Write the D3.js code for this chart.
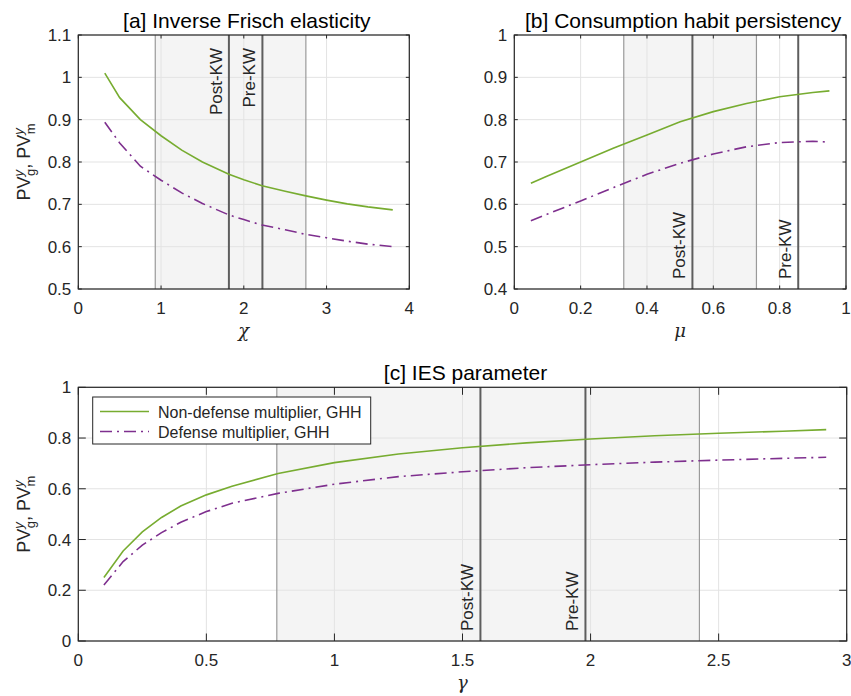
<!DOCTYPE html>
<html>
<head>
<meta charset="utf-8">
<script src="https://cdn.jsdelivr.net/npm/d3@7"></script>
<style>
  body { margin: 0; background: #fff; }
  text { font-family: "Liberation Sans", Arial, sans-serif; fill: #262626; }
</style>
</head>
<body>
<div id="chart"></div>
<script>
// panel a: inverse Frisch elasticity
var chiX = [0.32, 0.5, 0.75, 1.0, 1.25, 1.5, 1.82, 2.0, 2.22, 2.5, 2.75, 3.0, 3.25, 3.5, 3.8];
var chiNonDef = [1.01, 0.952, 0.90, 0.862, 0.828, 0.80, 0.771, 0.758, 0.744, 0.731, 0.72, 0.71, 0.701, 0.694, 0.687];
var chiDef = [0.894, 0.845, 0.79, 0.757, 0.727, 0.702, 0.675, 0.664, 0.651, 0.64, 0.629, 0.621, 0.613, 0.606, 0.6];
var chiBand = [0.93, 2.75], chiPost = 1.82, chiPre = 2.225;

// panel b: consumption habit persistency
var muX = [0.05, 0.1, 0.2, 0.3, 0.4, 0.5, 0.6, 0.7, 0.8, 0.9, 0.95];
var muNonDef = [0.65, 0.667, 0.70, 0.733, 0.764, 0.795, 0.819, 0.838, 0.854, 0.864, 0.868];
var muDef = [0.561, 0.577, 0.608, 0.64, 0.671, 0.697, 0.719, 0.736, 0.746, 0.749, 0.747];
var muBand = [0.33, 0.73], muPost = 0.537, muPre = 0.856;

// panel c: IES parameter
var gamX = [0.1, 0.175, 0.25, 0.325, 0.4, 0.5, 0.6, 0.78, 1.0, 1.25, 1.5, 1.75, 2.0, 2.25, 2.5, 2.75, 2.92];
var gamNonDef = [0.25, 0.355, 0.43, 0.487, 0.532, 0.576, 0.61, 0.66, 0.703, 0.737, 0.762, 0.781, 0.796, 0.809, 0.819, 0.827, 0.833];
var gamDef = [0.221, 0.313, 0.378, 0.427, 0.468, 0.51, 0.543, 0.582, 0.618, 0.648, 0.667, 0.683, 0.695, 0.705, 0.713, 0.72, 0.724];
var gamBand = [0.775, 2.425], gamPost = 1.57, gamPre = 1.98;

var seriesNames = ["Non-defense multiplier, GHH", "Defense multiplier, GHH"];
var green = "#77ac30", purple = "#7e2f8e";

var svg = d3.select("#chart").append("svg")
    .attr("width", 851).attr("height", 696);

var panels = [
  {title: "[a] Inverse Frisch elasticity", xs: chiX, g: chiNonDef, m: chiDef,
   band: chiBand, post: chiPost, pre: chiPre, xdom: [0, 4], ydom: [0.5, 1.1],
   xticks: d3.range(0, 4.01, 1), yticks: d3.range(0.5, 1.101, 0.1),
   box: [78.3, 35, 409.3, 289], xlab: "\u03c7", ylab: true, labTop: true, tick: 3.5},
  {title: "[b] Consumption habit persistency", xs: muX, g: muNonDef, m: muDef,
   band: muBand, post: muPost, pre: muPre, xdom: [0, 1], ydom: [0.4, 1],
   xticks: d3.range(0, 1.01, 0.2), yticks: d3.range(0.4, 1.001, 0.1),
   box: [514.3, 35, 846, 289], xlab: "\u03bc", ylab: false, labTop: false, tick: 3.5},
  {title: "[c] IES parameter", xs: gamX, g: gamNonDef, m: gamDef,
   band: gamBand, post: gamPost, pre: gamPre, xdom: [0, 3], ydom: [0, 1],
   xticks: d3.range(0, 3.01, 0.5), yticks: d3.range(0, 1.001, 0.2),
   box: [78.3, 387.3, 846.7, 641], xlab: "\u03b3", ylab: true, labTop: false, tick: 7.5, legend: true}
];

var fmt = d => String(+d.toFixed(2));

panels.forEach(function(p) {
    var x0 = p.box[0], y0 = p.box[1], x1 = p.box[2], y1 = p.box[3];
    var x = d3.scaleLinear().domain(p.xdom).range([x0, x1]);
    var y = d3.scaleLinear().domain(p.ydom).range([y1, y0]);
    var g = svg.append("g");

    // shaded range
    g.append("rect")
        .attr("x", x(p.band[0])).attr("y", y0)
        .attr("width", x(p.band[1]) - x(p.band[0])).attr("height", y1 - y0)
        .style("fill", "#f4f4f4");

    // grid
    g.selectAll(".gx").data(p.xticks).enter().append("line")
        .attr("x1", d => x(d)).attr("x2", d => x(d))
        .attr("y1", y0).attr("y2", y1)
        .style("stroke", "#e3e3e3").style("stroke-width", 1);
    g.selectAll(".gy").data(p.yticks).enter().append("line")
        .attr("y1", d => y(d)).attr("y2", d => y(d))
        .attr("x1", x0).attr("x2", x1)
        .style("stroke", "#e3e3e3").style("stroke-width", 1);

    // ticks inside, all four sides
    var tl = p.tick;
    g.selectAll(".tb").data(p.xticks).enter().append("path")
        .attr("d", d => "M" + x(d) + "," + y1 + "v" + (-tl) + "M" + x(d) + "," + y0 + "v" + tl)
        .style("stroke", "#262626");
    g.selectAll(".tl").data(p.yticks).enter().append("path")
        .attr("d", d => "M" + x0 + "," + y(d) + "h" + tl + "M" + x1 + "," + y(d) + "h" + (-tl))
        .style("stroke", "#262626");

    // band edges and KW markers
    p.band.forEach(function(v) {
        g.append("line").attr("x1", x(v)).attr("x2", x(v)).attr("y1", y0).attr("y2", y1)
            .style("stroke", "#9a9a9a").style("stroke-width", 1.2);
    });
    [[p.post, "Post-KW"], [p.pre, "Pre-KW"]].forEach(function(k) {
        g.append("line").attr("x1", x(k[0])).attr("x2", x(k[0])).attr("y1", y0).attr("y2", y1)
            .style("stroke", "#5e5e5e").style("stroke-width", 2);
        var ty = p.labTop ? y0 + 13 : y1 - 10;
        g.append("text")
            .attr("transform", "translate(" + (x(k[0]) - 7) + "," + ty + ") rotate(-90)")
            .attr("text-anchor", p.labTop ? "end" : "start")
            .style("font-size", "17px")
            .text(k[1]);
    });

    // lines
    var line = d3.line().x(d => x(d[0])).y(d => y(d[1]));
    g.append("path").datum(p.xs.map((v, i) => [v, p.g[i]]))
        .attr("d", line).style("fill", "none").style("stroke", green).style("stroke-width", 1.6);
    g.append("path").datum(p.xs.map((v, i) => [v, p.m[i]]))
        .attr("d", line).style("fill", "none").style("stroke", purple).style("stroke-width", 1.6)
        .style("stroke-dasharray", "12,5,2,5");

    // box
    g.append("rect").attr("x", x0).attr("y", y0).attr("width", x1 - x0).attr("height", y1 - y0)
        .style("fill", "none").style("stroke", "#262626").style("stroke-width", 1.2);

    // tick labels
    g.selectAll(".xl").data(p.xticks).enter().append("text")
        .attr("x", d => x(d)).attr("y", y1 + 25)
        .attr("text-anchor", "middle").style("font-size", "17px")
        .text(fmt);
    g.selectAll(".yl").data(p.yticks).enter().append("text")
        .attr("x", x0 - 7).attr("y", d => y(d) + 6)
        .attr("text-anchor", "end").style("font-size", "17px")
        .text(fmt);

    // title
    g.append("text").attr("x", (x0 + x1) / 2 + 3).attr("y", y0 - 7)
        .attr("text-anchor", "middle").style("font-size", "21px")
        .style("fill", "#000")
        .text(p.title);

    // x label
    g.append("text").attr("x", (x0 + x1) / 2).attr("y", y1 + 48)
        .attr("text-anchor", "middle")
        .style("font-family", "'DejaVu Serif', 'Liberation Serif', serif")
        .style("font-style", "italic").style("font-size", "18px")
        .text(p.xlab);

    // y label
    if (p.ylab) {
        var yl = g.append("text")
            .attr("transform", "translate(30," + ((y0 + y1) / 2) + ") rotate(-90)")
            .attr("text-anchor", "middle").style("font-size", "18px");
        yl.append("tspan").text("PV");
        yl.append("tspan").attr("dy", -7).style("font-size", "13px").style("font-style", "italic").text("y");
        yl.append("tspan").attr("dx", -6).attr("dy", 12).style("font-size", "13px").text("g");
        yl.append("tspan").attr("dy", -5).text(", PV");
        yl.append("tspan").attr("dy", -7).style("font-size", "13px").style("font-style", "italic").text("y");
        yl.append("tspan").attr("dx", -6).attr("dy", 12).style("font-size", "13px").text("m");
    }

    // legend
    if (p.legend) {
        var lg = g.append("g");
        lg.append("rect").attr("x", 92.7).attr("y", 397).attr("width", 278).attr("height", 47)
            .style("fill", "#fff").style("stroke", "#262626").style("stroke-width", 1);
        seriesNames.forEach(function(name, i) {
            var ly = 411.5 + i * 20;
            lg.append("line").attr("x1", 100).attr("x2", 149).attr("y1", ly).attr("y2", ly)
                .style("stroke", i === 0 ? green : purple).style("stroke-width", 1.6)
                .style("stroke-dasharray", i === 0 ? null : "12,5,2,5");
            lg.append("text").attr("x", 158).attr("y", ly + 6)
                .style("font-size", "16px").text(name);
        });
    }
});
</script>
</body>
</html>
